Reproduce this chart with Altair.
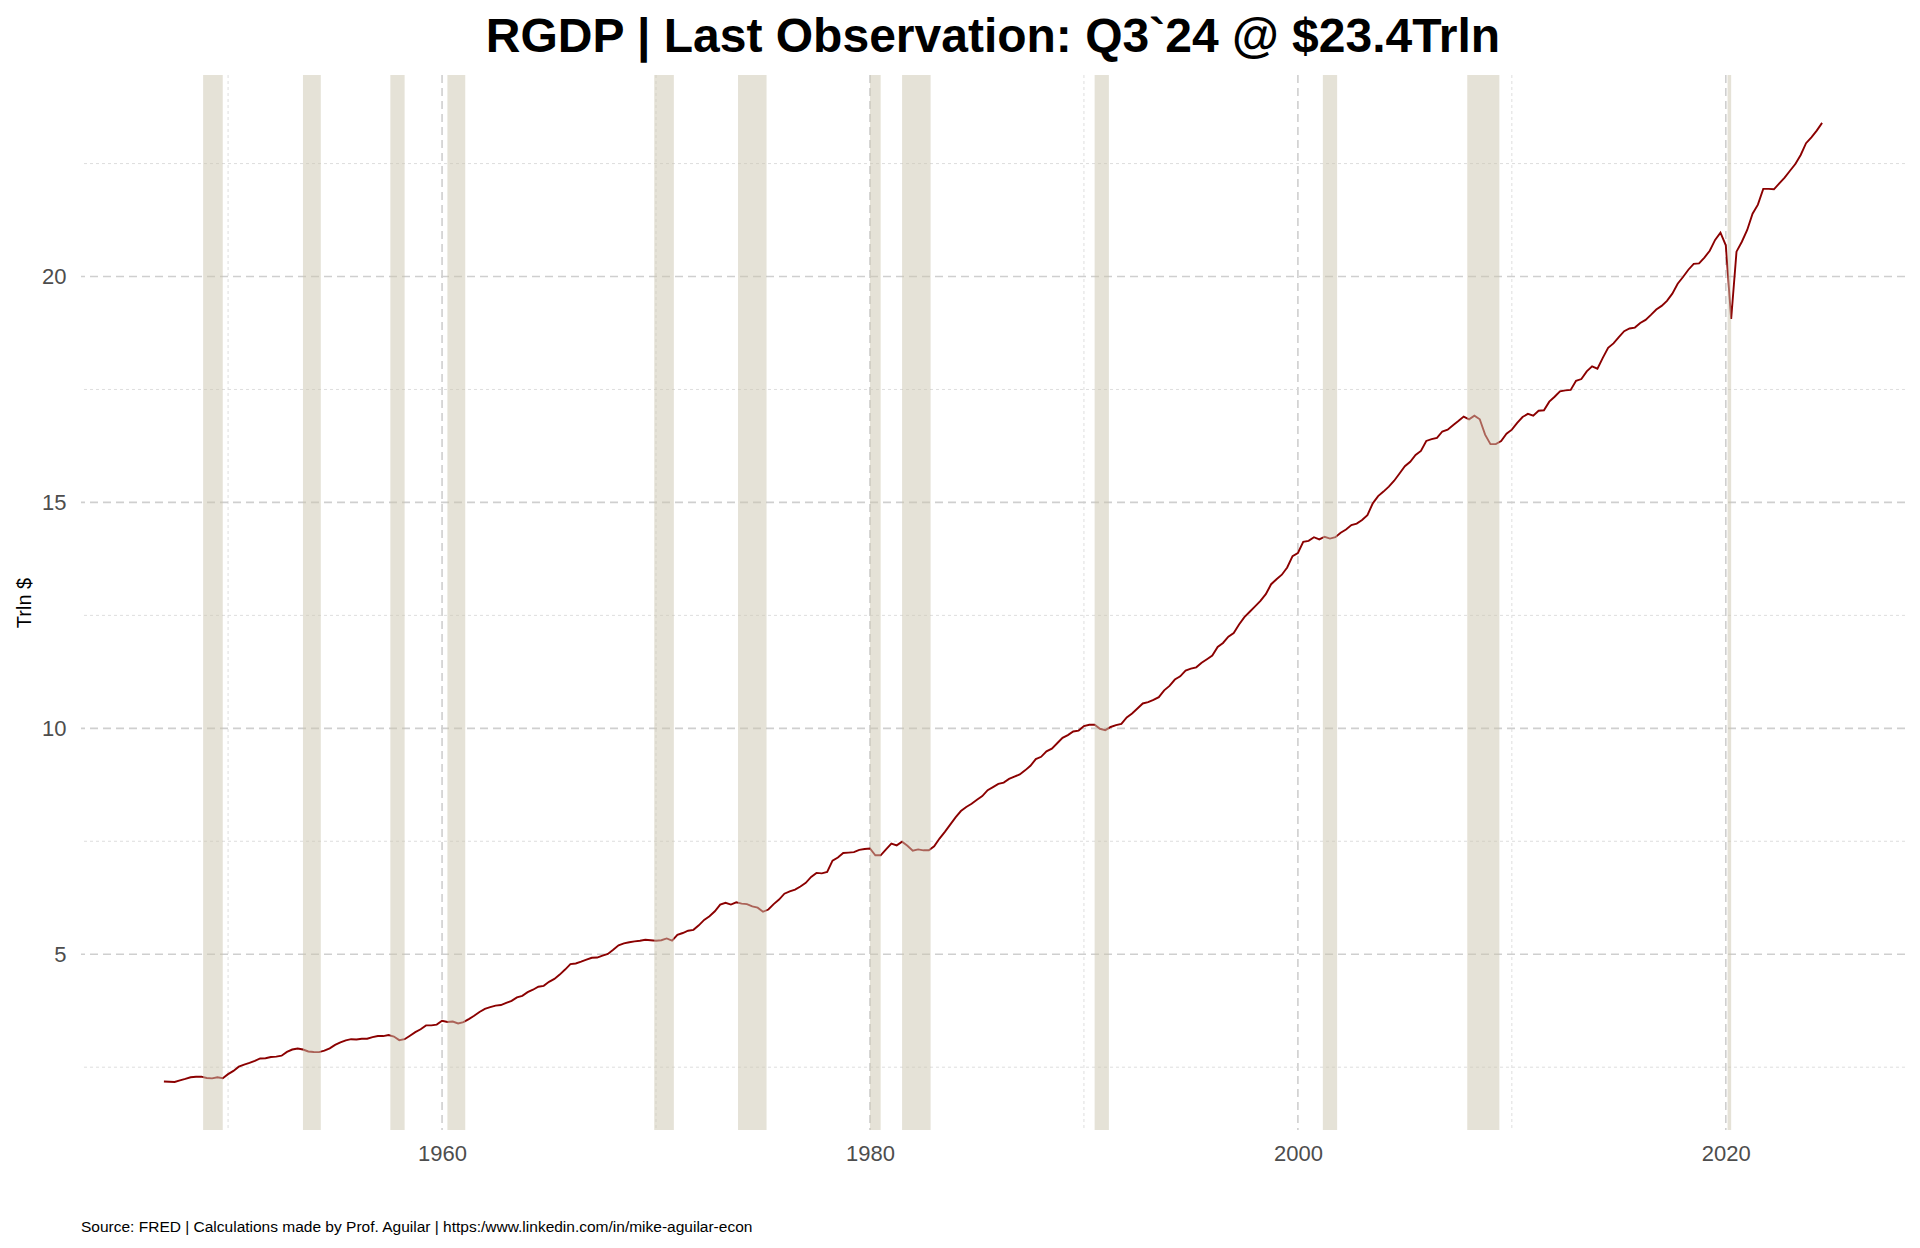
import pandas as pd
import altair as alt

FONT = "Liberation Sans"
W, H = 1824, 1055

# real GDP, trillions of chained 2017 dollars, quarterly 1947Q1 .. 2024Q3
rgdp = [
    2.183, 2.177, 2.172, 2.207,  # 1947
    2.240, 2.277, 2.290, 2.292,  # 1948
    2.261, 2.253, 2.276, 2.257,  # 1949
    2.346, 2.418, 2.511, 2.559,  # 1950
    2.594, 2.639, 2.693, 2.699,  # 1951
    2.726, 2.735, 2.754, 2.839,  # 1952
    2.891, 2.914, 2.891, 2.848,  # 1953
    2.837, 2.834, 2.867, 2.918,  # 1954
    2.995, 3.049, 3.094, 3.120,  # 1955
    3.112, 3.128, 3.129, 3.166,  # 1956
    3.191, 3.189, 3.212, 3.178,  # 1957
    3.099, 3.120, 3.197, 3.277,  # 1958
    3.340, 3.425, 3.425, 3.442,  # 1959
    3.526, 3.501, 3.510, 3.468,  # 1960
    3.497, 3.565, 3.637, 3.722,  # 1961
    3.792, 3.828, 3.864, 3.876,  # 1962
    3.924, 3.967, 4.045, 4.079,  # 1963
    4.160, 4.215, 4.280, 4.300,  # 1964
    4.389, 4.453, 4.550, 4.661,  # 1965
    4.780, 4.796, 4.836, 4.879,  # 1966
    4.922, 4.927, 4.969, 5.006,  # 1967
    5.098, 5.198, 5.239, 5.266,  # 1968
    5.285, 5.300, 5.320, 5.310,  # 1969
    5.300, 5.310, 5.350, 5.300,  # 1970
    5.430, 5.470, 5.520, 5.540,  # 1971
    5.640, 5.760, 5.840, 5.950,  # 1972
    6.100, 6.140, 6.100, 6.150,  # 1973
    6.120, 6.110, 6.060, 6.030,  # 1974
    5.940, 5.990, 6.110, 6.210,  # 1975
    6.340, 6.390, 6.430, 6.500,  # 1976
    6.580, 6.710, 6.800, 6.790,  # 1977
    6.820, 7.070, 7.140, 7.240,  # 1978
    7.250, 7.260, 7.310, 7.330,  # 1979
    7.340, 7.190, 7.190, 7.320,  # 1980
    7.450, 7.410, 7.490, 7.400,  # 1981
    7.290, 7.320, 7.300, 7.300,  # 1982
    7.390, 7.560, 7.710, 7.870,  # 1983
    8.030, 8.170, 8.260, 8.330,  # 1984
    8.420, 8.500, 8.630, 8.700,  # 1985
    8.770, 8.800, 8.880, 8.930,  # 1986
    8.980, 9.070, 9.170, 9.320,  # 1987
    9.370, 9.490, 9.550, 9.670,  # 1988
    9.790, 9.850, 9.930, 9.950,  # 1989
    10.050, 10.080, 10.080, 9.990,  # 1990
    9.960, 10.030, 10.070, 10.100,  # 1991
    10.240, 10.330, 10.440, 10.550,  # 1992
    10.580, 10.630, 10.690, 10.840,  # 1993
    10.940, 11.080, 11.150, 11.280,  # 1994
    11.320, 11.350, 11.450, 11.530,  # 1995
    11.610, 11.800, 11.890, 12.030,  # 1996
    12.110, 12.300, 12.460, 12.580,  # 1997
    12.700, 12.820, 12.970, 13.190,  # 1998
    13.300, 13.400, 13.560, 13.810,  # 1999
    13.880, 14.130, 14.150, 14.230,  # 2000
    14.180, 14.240, 14.200, 14.230,  # 2001
    14.330, 14.400, 14.500, 14.530,  # 2002
    14.610, 14.720, 14.980, 15.140,  # 2003
    15.240, 15.350, 15.480, 15.640,  # 2004
    15.800, 15.900, 16.050, 16.140,  # 2005
    16.360, 16.400, 16.430, 16.570,  # 2006
    16.610, 16.710, 16.800, 16.900,  # 2007
    16.840, 16.920, 16.840, 16.500,  # 2008
    16.290, 16.290, 16.360, 16.520,  # 2009
    16.610, 16.760, 16.890, 16.960,  # 2010
    16.920, 17.030, 17.040, 17.230,  # 2011
    17.340, 17.460, 17.480, 17.490,  # 2012
    17.690, 17.730, 17.900, 18.010,  # 2013
    17.960, 18.200, 18.420, 18.520,  # 2014
    18.660, 18.790, 18.850, 18.870,  # 2015
    18.970, 19.040, 19.150, 19.270,  # 2016
    19.350, 19.460, 19.620, 19.840,  # 2017
    19.990, 20.150, 20.280, 20.290,  # 2018
    20.420, 20.570, 20.810, 20.970,  # 2019
    20.690, 19.060, 20.550, 20.770,  # 2020
    21.030, 21.390, 21.590, 21.940,  # 2021
    21.940, 21.930, 22.060, 22.190,  # 2022
    22.340, 22.490, 22.690, 22.950,  # 2023
    23.080, 23.230, 23.400,          # 2024
]
first_year = 1947

# NBER recessions, peak month to trough month
rec_peak = ["1948-11", "1953-07", "1957-08", "1960-04", "1969-12", "1973-11",
            "1980-01", "1981-07", "1990-07", "2001-03", "2007-12", "2020-02"]
rec_trough = ["1949-10", "1954-05", "1958-04", "1961-02", "1970-11", "1975-03",
              "1980-07", "1982-11", "1991-03", "2001-11", "2009-06", "2020-04"]

major_years = [1960, 1980, 2000, 2020]
minor_years = [1950, 1970, 1990, 2010]
major_vals = [5, 10, 15, 20]
minor_vals = [2.5, 7.5, 12.5, 17.5, 22.5]

title_text = "RGDP | Last Observation: Q3`24 @ $23.4Trln"
caption_text = ("Source: FRED | Calculations made by Prof. Aguilar | "
                "https:/www.linkedin.com/in/mike-aguilar-econ")


def to_year(s):
    y, m = s.split("-")
    return int(y) + (int(m) - 1) / 12


gdp = pd.DataFrame({
    "year": [first_year + i / 4 for i in range(len(rgdp))],
    "rgdp": rgdp,
})
rec = pd.DataFrame({
    "start": [to_year(s) for s in rec_peak],
    "end": [to_year(s) for s in rec_trough],
})

x_scale = alt.Scale(domain=[1943.125, 2028.375], nice=False, zero=False)
y_scale = alt.Scale(domain=[1.11, 24.46], nice=False, zero=False)
x_axis = alt.Axis(values=major_years, format="d", title=None, grid=False,
                  domain=False, ticks=False, labelFont=FONT, labelFontSize=22,
                  labelColor="#4D4D4D", labelPadding=13)
y_axis = alt.Axis(values=major_vals, title="Trln $", grid=False, domain=False,
                  ticks=False, labelFont=FONT, labelFontSize=22,
                  labelColor="#4D4D4D", labelPadding=15,
                  titleFont=FONT, titleFontSize=20, titleFontWeight="normal",
                  titleColor="black", titleX=-57, titleY=H / 2,
                  titleAngle=-90, titleAlign="center", titleBaseline="middle")

minor_v = alt.Chart(pd.DataFrame({"year": minor_years})).mark_rule(
    color="#DADADA", strokeWidth=0.9, strokeDash=[3, 3]
).encode(x=alt.X("year:Q", scale=x_scale, axis=x_axis))
major_v = alt.Chart(pd.DataFrame({"year": major_years})).mark_rule(
    color="#CFCFCF", strokeWidth=1.6, strokeDash=[8, 5]
).encode(x=alt.X("year:Q", scale=x_scale, axis=x_axis))
minor_h = alt.Chart(pd.DataFrame({"rgdp": minor_vals})).mark_rule(
    color="#DADADA", strokeWidth=0.9, strokeDash=[3, 3]
).encode(y=alt.Y("rgdp:Q", scale=y_scale, axis=y_axis))
major_h = alt.Chart(pd.DataFrame({"rgdp": major_vals})).mark_rule(
    color="#CFCFCF", strokeWidth=1.6, strokeDash=[8, 5]
).encode(y=alt.Y("rgdp:Q", scale=y_scale, axis=y_axis))

line = alt.Chart(gdp).mark_line(color="#8B0000", strokeWidth=1.9).encode(
    x=alt.X("year:Q", scale=x_scale, axis=x_axis),
    y=alt.Y("rgdp:Q", scale=y_scale, axis=y_axis),
)

bars = alt.Chart(rec).mark_rect(color="#CBC5AF", opacity=0.5).encode(
    x=alt.X("start:Q", scale=x_scale, axis=x_axis),
    x2="end:Q",
    y=alt.value(0),
    y2=alt.value(H),
)

title = alt.Chart(pd.DataFrame({"t": [title_text]})).mark_text(
    font=FONT, fontSize=48, fontWeight="bold", color="black",
    align="center", baseline="alphabetic"
).encode(x=alt.value(W / 2), y=alt.value(-23.4), text="t:N")

caption = alt.Chart(pd.DataFrame({"t": [caption_text]})).mark_text(
    font=FONT, fontSize=15.5, color="black", align="left", baseline="alphabetic"
).encode(x=alt.value(0), y=alt.value(1156.6), text="t:N")

chart = alt.layer(minor_v, major_v, minor_h, major_h, line, bars, title, caption).properties(
    width=W,
    height=H,
    autosize=alt.AutoSizeParams(type="none"),
    padding={"left": 73, "top": 67, "right": 7, "bottom": 110},
).configure_view(stroke=None)

chart.save("out.html", embed_options={"renderer": "svg", "actions": False})
